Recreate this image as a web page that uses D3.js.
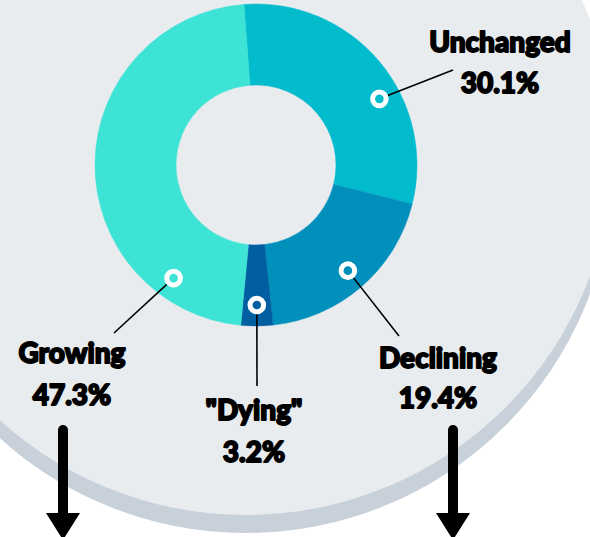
<!DOCTYPE html>
<html>
<head>
<meta charset="utf-8">
<script src="https://cdn.jsdelivr.net/npm/d3@7"></script>
<style>
  html, body { margin: 0; padding: 0; background: #fff; overflow: hidden; }
  text { font-family: "Lato", "Roboto", sans-serif; font-weight: 900; fill: #000;
         stroke: #000; stroke-width: 1.8px; stroke-linejoin: round; }
</style>
</head>
<body>
<script>
// data
var categories = ["Unchanged", "Declining", "\"Dying\"", "Growing"];
var shares = [30.1, 19.4, 3.2, 47.3];
var shareLabels = ["30.1%", "19.4%", "3.2%", "47.3%"];
var colors = ["#02bbcd", "#018fbc", "#015ea1", "#3de3d5"];

var width = 590, height = 537;
var cx = 256, cy = 165;
var outerR = 161, innerR = 80, markerR = 140;
var start = -0.075; // pie is turned a bit left of 12 o'clock

// where each label goes (marker spot inside slice, end of leader line, text)
var layout = [
  { frac: 0.61, lx: 453, ly: 70, tx: 500, ny: 52, py: 93 },
  { frac: 0.5, lx: 399, ly: 336, tx: 438, ny: 368, py: 408 },
  { frac: 0.5, lx: 257, ly: 386, tx: 254, ny: 420, py: 462 },
  { frac: 0.18, lx: 114, ly: 333, tx: 72, ny: 363, py: 405 }
];

var svg = d3.select("body").append("svg")
  .attr("width", width)
  .attr("height", height);

// backdrop disc + its shadow
svg.append("circle")
  .attr("cx", 246).attr("cy", 166).attr("r", 367)
  .style("fill", "#c8d0da");
svg.append("circle")
  .attr("cx", 246).attr("cy", 148).attr("r", 367)
  .style("fill", "#e9ecef");

var pie = d3.pie()
  .sort(null)
  .value(function (d) { return d; })
  .startAngle(start)
  .endAngle(start + 2 * Math.PI);

var arcs = pie(shares);

var arc = d3.arc()
  .innerRadius(innerR)
  .outerRadius(outerR);

var g = svg.append("g")
  .attr("transform", "translate(" + cx + "," + cy + ")");

g.selectAll("path")
  .data(arcs)
  .enter().append("path")
  .attr("d", arc)
  .style("fill", function (d, i) { return colors[i]; })
  .style("stroke", function (d, i) { return colors[i]; })
  .style("stroke-width", 0.5);

function markerPos(d, i) {
  var a = d.startAngle + layout[i].frac * (d.endAngle - d.startAngle);
  return [cx + markerR * Math.sin(a), cy - markerR * Math.cos(a)];
}

// leader lines
svg.selectAll("line.leader")
  .data(arcs)
  .enter().append("line")
  .attr("class", "leader")
  .attr("x1", function (d, i) { return markerPos(d, i)[0]; })
  .attr("y1", function (d, i) { return markerPos(d, i)[1]; })
  .attr("x2", function (d, i) { return layout[i].lx; })
  .attr("y2", function (d, i) { return layout[i].ly; })
  .style("stroke", "#000")
  .style("stroke-width", 1.6);

// ring markers
svg.selectAll("circle.marker")
  .data(arcs)
  .enter().append("circle")
  .attr("class", "marker")
  .attr("cx", function (d, i) { return markerPos(d, i)[0]; })
  .attr("cy", function (d, i) { return markerPos(d, i)[1]; })
  .attr("r", 6.8)
  .style("fill", function (d, i) { return colors[i]; })
  .style("stroke", "#fff")
  .style("stroke-width", 5);

// labels
svg.selectAll("text.name")
  .data(categories)
  .enter().append("text")
  .attr("class", "name")
  .attr("x", function (d, i) { return layout[i].tx; })
  .attr("y", function (d, i) { return layout[i].ny; })
  .attr("text-anchor", "middle")
  .style("font-size", "28px")
  .text(function (d) { return d; });

svg.selectAll("text.pct")
  .data(shareLabels)
  .enter().append("text")
  .attr("class", "pct")
  .attr("x", function (d, i) { return layout[i].tx; })
  .attr("y", function (d, i) { return layout[i].py; })
  .attr("text-anchor", "middle")
  .style("font-size", "28px")
  .text(function (d) { return d; });

// down arrows
var arrowX = [63, 453];
arrowX.forEach(function (x) {
  svg.append("line")
    .attr("x1", x).attr("y1", 430)
    .attr("x2", x).attr("y2", 516)
    .style("stroke", "#000")
    .style("stroke-width", 10)
    .style("stroke-linecap", "round");
  svg.append("path")
    .attr("d", "M" + (x - 17) + ",513L" + (x + 17) + ",513L" + x + ",540Z")
    .style("fill", "#000");
});
</script>
</body>
</html>
